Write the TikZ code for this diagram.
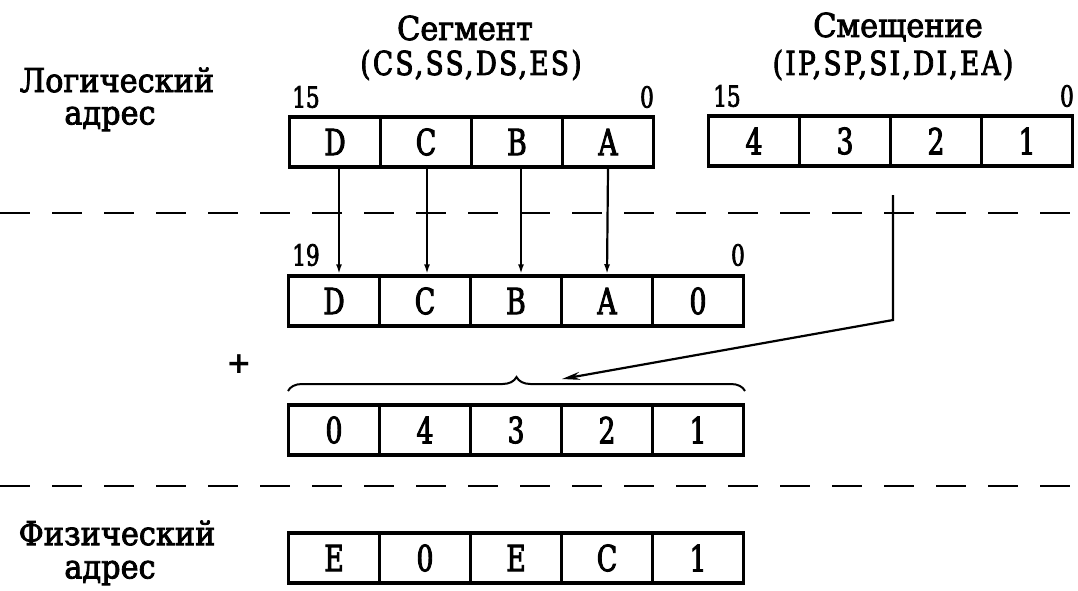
\documentclass[tikz,border=0pt]{standalone}
\usepackage{fontspec}
\newfontfamily\gost[FakeStretch=0.74,FakeBold=2.5]{DejaVu Serif}
\newfontfamily\gostc[FakeStretch=0.92,FakeBold=2.5]{DejaVu Serif}
\newfontfamily\gostl[FakeStretch=0.8,FakeBold=2.5,LetterSpace=7]{DejaVu Serif}
\newfontfamily\plusfont{DejaVu Sans}
\usetikzlibrary{arrows.meta,decorations.pathreplacing}
\begin{document}
\begin{tikzpicture}[x=1pt,y=-1pt,
  cell/.style={draw, line width=3.5pt, minimum width=91pt, minimum height=50pt, inner sep=0pt,
    font=\gost\fontsize{36}{36}\selectfont},
  lbl/.style={font=\gostc\fontsize{33}{33}\selectfont, inner sep=0pt},
  lbll/.style={font=\gostl\fontsize{33}{33}\selectfont, inner sep=0pt},
  bit/.style={font=\gost\fontsize{29}{29}\selectfont, inner sep=0pt},
  sepline/.style={line width=2.8pt, dash pattern=on 30pt off 22pt},
  conn/.style={line width=2.2pt, -{Latex[length=10pt,width=6pt]}},
  addarrow/.style={line width=2.2pt, -{Stealth[length=18pt,width=8pt]}}]
\useasboundingbox (0,0) rectangle (1078,590);

% labels
\node[lbl] (logl1) at (117,80) {Логический};
\node[lbl] (logl2) at (110,119) {адрес};
\node[lbl] (phyl1) at (117,533) {Физический};
\node[lbl] (phyl2) at (110,573) {адрес};
\node[lbl] (segt1) at (465,28) {Сегмент};
\node[lbll] (segt2) at (471,65) {(CS,SS,DS,ES)};
\node[lbl] (offt1) at (898,27) {Смещение};
\node[lbll] (offt2) at (893,65) {(IP,SP,SI,DI,EA)};

% segment register
\node[cell] (sD) at (335,142) {D};
\node[cell] (sC) at (426,142) {C};
\node[cell] (sB) at (517,142) {B};
\node[cell] (sA) at (608,142) {A};
\node[bit] (s15) at (306,97) {15};
\node[bit, anchor=east] (s0) at (654,97) {0};

% offset register
\node[cell] (o4) at (754,141) {4};
\node[cell] (o3) at (845,141) {3};
\node[cell] (o2) at (936,141) {2};
\node[cell] (o1) at (1027,141) {1};
\node[bit] (o15) at (727,96) {15};
\node[bit, anchor=east] (o0) at (1074,96) {0};

% shifted segment
\node[cell] (mD) at (334,301) {D};
\node[cell] (mC) at (425,301) {C};
\node[cell] (mB) at (516,301) {B};
\node[cell] (mA) at (607,301) {A};
\node[cell] (m0) at (698,301) {0};
\node[bit] (m19) at (306,255) {19};
\node[bit, anchor=east] (mz) at (745,255) {0};

% extended offset
\node[cell] (e0) at (334,430) {0};
\node[cell] (e4) at (425,430) {4};
\node[cell] (e3) at (516,430) {3};
\node[cell] (e2) at (607,430) {2};
\node[cell] (e1) at (698,430) {1};

% physical address
\node[cell] (pE) at (334,558) {E};
\node[cell] (p0) at (425,558) {0};
\node[cell] (pE2) at (516,558) {E};
\node[cell] (pC) at (607,558) {C};
\node[cell] (p1) at (698,558) {1};

% plus
\node[font=\plusfont\bfseries\fontsize{30}{30}\selectfont, inner sep=0pt] (plus) at (239,364) {+};

% separators
\coordinate (d1a) at (0,213); \coordinate (d1b) at (1078,213);
\coordinate (d2a) at (0,486); \coordinate (d2b) at (1078,486);
\draw[sepline] (d1a) -- (d1b);
\draw[sepline] (d2a) -- (d2b);

% shift arrows
\draw[conn] ([xshift=4pt]sD.south) -- ([xshift=5pt]mD.north);
\draw[conn] ([xshift=1pt]sC.south) -- ([xshift=2pt]mC.north);
\draw[conn] ([xshift=4pt]sB.south) -- ([xshift=5pt]mB.north);
\draw[conn] (sA.south) -- (mA.north);

% brace
\coordinate (bl) at (288,391); \coordinate (br) at (745,391);
\draw[line width=2pt, decorate, decoration={brace, amplitude=14pt}] (bl) -- (br);
\coordinate (bt) at (562,379);

% offset arrow
\coordinate (os) at (893,195);
\coordinate (oc) at (893,320);
\draw[addarrow] (os) -- (oc) -- (bt);
\end{tikzpicture}
\end{document}
